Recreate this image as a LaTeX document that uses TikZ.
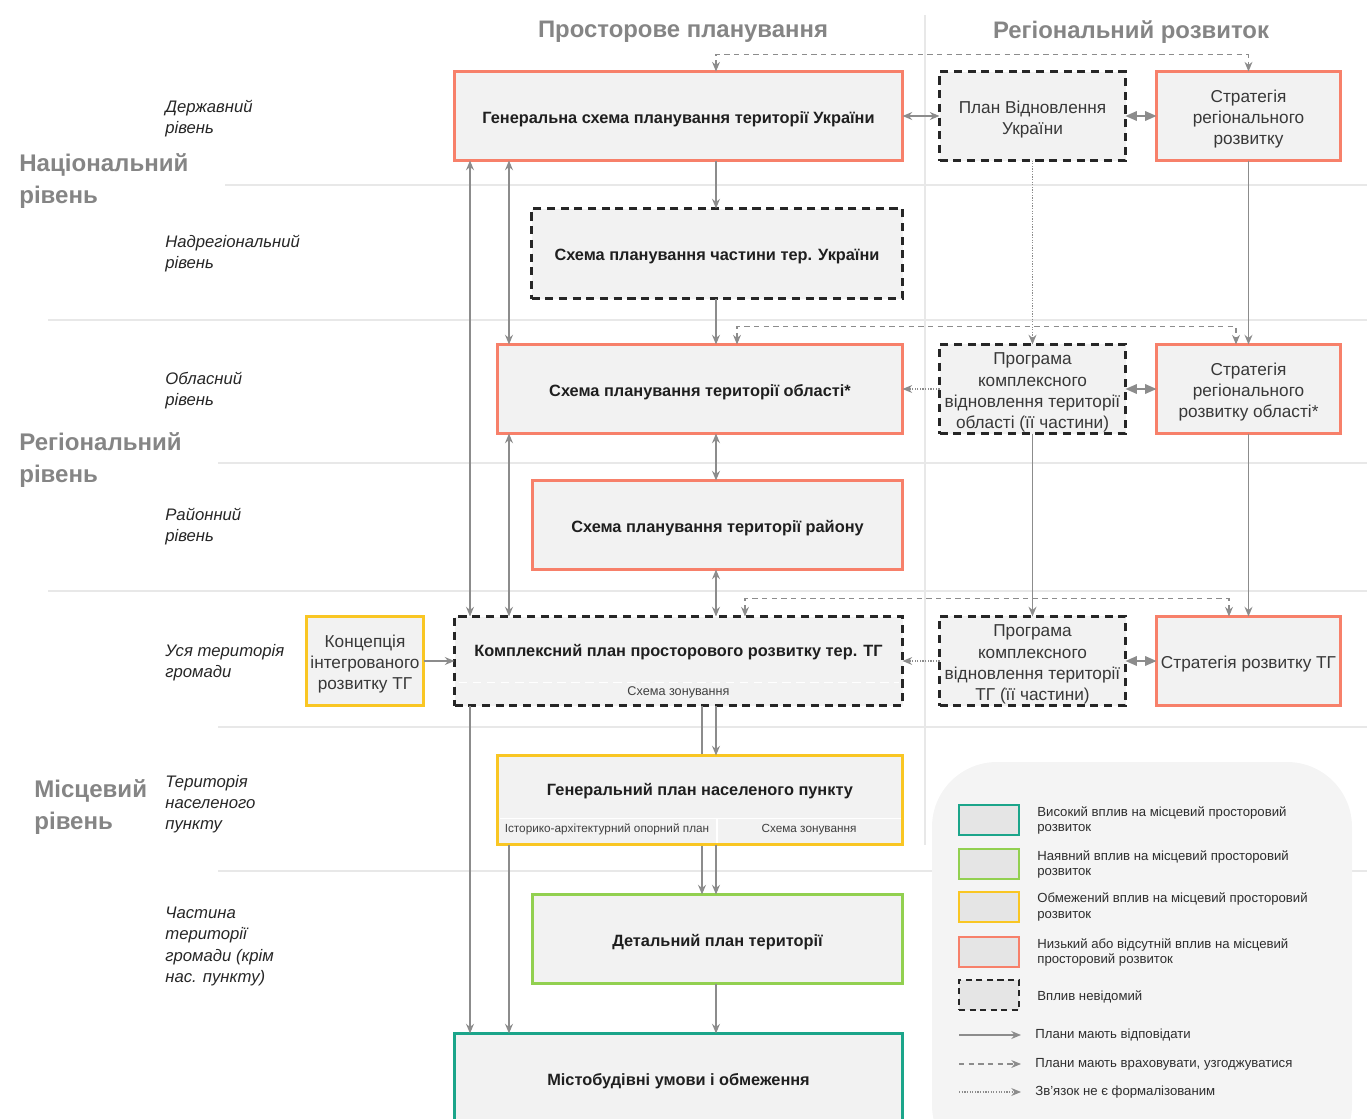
\documentclass[tikz,border=0pt]{standalone}
\usepackage{fontspec}
\setmainfont{Liberation Sans}
\usetikzlibrary{arrows.meta,calc}
\definecolor{cred}{HTML}{F7806A}
\definecolor{cyel}{HTML}{F9C623}
\definecolor{cgrn}{HTML}{92D050}
\definecolor{cteal}{HTML}{1BA58A}
\definecolor{cfill}{HTML}{F2F2F2}
\definecolor{carr}{HTML}{8C8C8C}
\definecolor{csep}{HTML}{E8E8E8}
\definecolor{ctitle}{HTML}{858585}
\definecolor{clegbg}{HTML}{F4F4F4}
\definecolor{cswatch}{HTML}{E5E5E5}
\newcommand\fBox{\fontsize{9.3}{12}\selectfont}
\newcommand\fReg{\fontsize{9.8}{12}\selectfont}
\newcommand\fTitle{\fontsize{13.6}{16}\selectfont\bfseries}
\newcommand\fBig{\fontsize{13.7}{18.2}\selectfont\bfseries}
\newcommand\fLvl{\fontsize{9.5}{12}\selectfont\itshape}
\newcommand\fLeg{\fontsize{7.5}{8.6}\selectfont}
\newcommand\fSub{\fontsize{6.7}{7}\selectfont}
\newcommand\fSubB{\fontsize{7.2}{8}\selectfont}
\newcommand\mkbox[7]{\node[#2, minimum width={(#5-(#3)-3)*0.02cm}, minimum height={(#6-(#4)-3)*0.02cm}] (#1) at ({(#3+#5)/2},{(#4+#6)/2}) {#7};}
\begin{document}
\begin{tikzpicture}[x=0.02cm,y=-0.02cm,
  >={Stealth[length=5.5pt,width=4.5pt]},
  bx/.style={fill=cfill, line width=1.7pt, align=center, inner sep=1pt, outer sep=0pt, text=black!88, font=\fBox\bfseries, execute at begin node={\rule{0pt}{10.3pt}}},
  redb/.style={bx, draw=cred},
  yelb/.style={bx, draw=cyel},
  grnb/.style={bx, draw=cgrn},
  tealb/.style={bx, draw=cteal},
  unkb/.style={bx, draw=black!85, line width=1.3pt, dash pattern=on 4.6pt off 3.2pt},
  rgl/.style={font=\fReg, text=black!78, execute at begin node={\rule{0pt}{#1pt}}},
  btxt/.style={font=\fBox\bfseries, text=black!88, inner sep=0pt},
  subt/.style={font=\fSub, text=black!75, inner sep=0pt},
  ln/.style={draw=carr, line width=0.8pt},
  conn/.style={ln, ->},
  both/.style={ln, <->},
  dshd/.style={line width=0.6pt, dash pattern=on 3pt off 2.5pt},
  dttd/.style={line width=0.6pt, dash pattern=on 0.7pt off 0.8pt},
  dia/.style={ln, {Triangle[length=6.5pt,width=5.5pt]}-{Triangle[length=6.5pt,width=5.5pt]}},
  sepl/.style={draw=csep, line width=0.6pt},
  ttl/.style={font=\fTitle, text=ctitle, inner sep=0pt},
  big/.style={font=\fBig, text=ctitle, align=left, anchor=west, inner sep=0pt},
  lvl/.style={font=\fLvl, text=black!85, align=left, anchor=west, inner sep=0pt},
  sw/.style={fill=cswatch, line width=1.3pt, minimum width=1.2cm, minimum height=0.6cm, inner sep=0pt},
  legt/.style={font=\fLeg, text=black!82, align=left, anchor=west, inner sep=0pt}
]
\path[use as bounding box] (0,0) rectangle (1367,1119);
\clip (0,0) rectangle (1367,1119);
% separators
\draw[sepl] (225,185) -- (1367,185);
\draw[sepl] (48,320) -- (1367,320);
\draw[sepl] (218,463) -- (1367,463);
\draw[sepl] (48,591) -- (1367,591);
\draw[sepl] (218,727) -- (1367,727);
\draw[sepl] (218,871) -- (1367,871);
\draw[sepl] (925,15) -- (925,845);
% legend background
\fill[clegbg, rounded corners=1.3cm] (932,762) rectangle (1352,1170);
% titles
\node[ttl] (t1) at (683,32) {Просторове планування};
\node[ttl] (t2) at (1131,32) {Регіональний розвиток};
% big level labels
\node[big] (L1) at (19,181) {Національний\\рівень};
\node[big] (L2) at (19,460) {Регіональний\\рівень};
\node[big] (L3) at (34,807) {Місцевий\\рівень};
% small level labels
\node[lvl] (s1) at (165,118.5) {Державний\\рівень};
\node[lvl] (s2) at (165,253.5) {Надрегіональний\\рівень};
\node[lvl] (s3) at (165,390.5) {Обласний\\рівень};
\node[lvl] (s4) at (165,526.5) {Районний\\рівень};
\node[lvl] (s5) at (165,662.5) {Уся територія\\громади};
\node[lvl] (s6) at (165,804) {Територія\\населеного\\пункту};
\node[lvl] (s7) at (165,946.5) {Частина\\території\\громади (крім\\нас. пункту)};
% boxes
\mkbox{gen}{redb}{453}{70}{904}{162}{Генеральна схема планування території України}
\mkbox{plan}{unkb,rgl=22.7}{938}{70}{1127}{162}{План Відновлення\\України}
\mkbox{strat}{redb,rgl=34.7}{1155}{70}{1342}{162}{Стратегія\\регіонального\\розвитку}
\mkbox{chast}{unkb}{530}{207}{904}{300}{Схема планування частини тер. України}
\mkbox{obl}{redb}{496}{343}{904}{435}{Схема планування території області*}
\mkbox{progobl}{unkb,rgl=46.7}{938}{343}{1127}{435}{Програма\\комплексного\\відновлення території\\області (її частини)}
\mkbox{stratobl}{redb,rgl=34.7}{1155}{343}{1342}{435}{Стратегія\\регіонального\\розвитку області*}
\mkbox{raion}{redb}{531}{479}{904}{571}{Схема планування території району}
\mkbox{konc}{yelb,rgl=34.7}{305}{615}{425}{707}{Концепція\\інтегрованого\\розвитку ТГ}
\mkbox{kompl}{unkb}{453}{615}{904}{707}{}
\node[btxt] (komplT) at (678.5,652) {Комплексний план просторового розвитку тер. ТГ};
\draw[white, line width=0.8pt, dash pattern=on 5pt off 3pt] ($(kompl.south west)+(4,-23)$) -- ($(kompl.south east)+(-4,-23)$);
\node[subt, font=\fSubB] (komplZ) at ($(kompl.south)+(0,-13)$) {Схема зонування};
\mkbox{progtg}{unkb,rgl=46.7}{938}{615}{1127}{707}{Програма\\комплексного\\відновлення території\\ТГ (її частини)}
\mkbox{strattg}{redb,rgl=10.5}{1155}{615}{1342}{707}{Стратегія розвитку ТГ}
\mkbox{detal}{grnb}{531}{893}{904}{985}{Детальний план території}
\coordinate (vA) at (470,0);
\coordinate (vB) at (509,0);
\coordinate (vC) at (737,0);
\coordinate (vD) at (1236,0);
\coordinate (vE) at (745,0);
\coordinate (vF) at (1229,0);
\coordinate (vG) at (702,0);
\coordinate (vH) at (716,0);
\draw[conn] (kompl.south -| vG) -- (detal.north -| vG);
\mkbox{genplan}{yelb}{496}{754}{904}{846}{}
\node[btxt] (genplanT) at (700,791) {Генеральний план населеного пункту};
\draw[white, line width=1pt] ($(genplan.south west)+(2,-26)$) -- ($(genplan.south east)+(-2,-26)$);
\draw[white, line width=1pt] ($(genplan.south)+(17,-26)$) -- ($(genplan.south)+(17,-2)$);
\node[subt] (gpA) at ($(genplan.south)+(-93,-15)$) {Історико-архітектурний опорний план};
\node[subt] (gpB) at ($(genplan.south)+(109,-15)$) {Схема зонування};
\mkbox{mist}{tealb}{453}{1032}{904}{1126}{}
\node[btxt] (mistT) at (678.5,1081) {Містобудівні умови і обмеження};
% connectors
\draw[both,dshd] (gen.north -| vH) -- ++(0,-17) -| (strat.north);
\draw[both] (gen.east) -- (plan.west);
\draw[dia] (plan.east) -- (strat.west);
\draw[conn] (gen.south -| vH) -- (chast.north -| vH);
\draw[conn] (chast.south -| vH) -- (obl.north -| vH);
\draw[both] (gen.south -| vA) -- (kompl.north -| vA);
\draw[both] (gen.south -| vB) -- (obl.north -| vB);
\draw[both] (obl.south -| vB) -- (kompl.north -| vB);
\draw[both] (obl.south -| vH) -- (raion.north -| vH);
\draw[both] (raion.south -| vH) -- (kompl.north -| vH);
\draw[both,dshd] (obl.north -| vC) -- ++(0,-18) -| (stratobl.north -| vD);
\draw[conn] (strat.south) -- (stratobl.north);
\draw[conn,dttd] (plan.south) -- (progobl.north);
\draw[conn,dttd] (progobl.west) -- (obl.east);
\draw[dia] (progobl.east) -- (stratobl.west);
\draw[both,dshd] (kompl.north -| vE) -- ++(0,-18) -| (strattg.north -| vF);
\draw[conn] (progobl.south) -- (progtg.north);
\draw[conn] (stratobl.south) -- (strattg.north);
\draw[conn,dttd] (progtg.west) -- (kompl.east);
\draw[dia] (progtg.east) -- (strattg.west);
\draw[conn] (konc.east) -- (kompl.west);
\draw[conn] (kompl.south -| vH) -- (genplan.north -| vH);
\draw[conn] (genplan.south -| vH) -- (detal.north -| vH);
\draw[conn] (kompl.south -| vA) -- (mist.north -| vA);
\draw[conn] (genplan.south -| vB) -- (mist.north -| vB);
\draw[conn] (detal.south -| vH) -- (mist.north -| vH);
% legend
\node[sw, draw=cteal] (sw1) at (989,820) {};
\node[sw, draw=cgrn] (sw2) at (989,864) {};
\node[sw, draw=cyel] (sw3) at (989,907) {};
\node[sw, draw=cred] (sw4) at (989,952) {};
\node[sw, draw=black!85, line width=1.1pt, dash pattern=on 3.5pt off 2.5pt] (sw5) at (989,995) {};
\node[legt] (lt1) at (1037,820.5) {Високий вплив на місцевий просторовий\\розвиток};
\node[legt] (lt2) at (1037,864.5) {Наявний вплив на місцевий просторовий\\розвиток};
\node[legt] (lt3) at (1037,907) {Обмежений вплив на місцевий просторовий\\розвиток};
\node[legt] (lt4) at (1037,952.5) {Низький або відсутній вплив на місцевий\\просторовий розвиток};
\node[legt] (lt5) at (1037,997) {Вплив невідомий};
\coordinate (la1) at (959,1035);
\coordinate (lb1) at (1021,1035);
\coordinate (la2) at (959,1064);
\coordinate (lb2) at (1021,1064);
\coordinate (la3) at (959,1092);
\coordinate (lb3) at (1021,1092);
\draw[conn] (la1) -- (lb1);
\draw[conn,dshd] (la2) -- (lb2);
\draw[conn,dttd] (la3) -- (lb3);
\node[legt] (lt6) at (1035,1035) {Плани мають відповідати};
\node[legt] (lt7) at (1035,1064) {Плани мають враховувати, узгоджуватися};
\node[legt] (lt8) at (1035,1092) {Зв’язок не є формалізованим};
\end{tikzpicture}
\end{document}
